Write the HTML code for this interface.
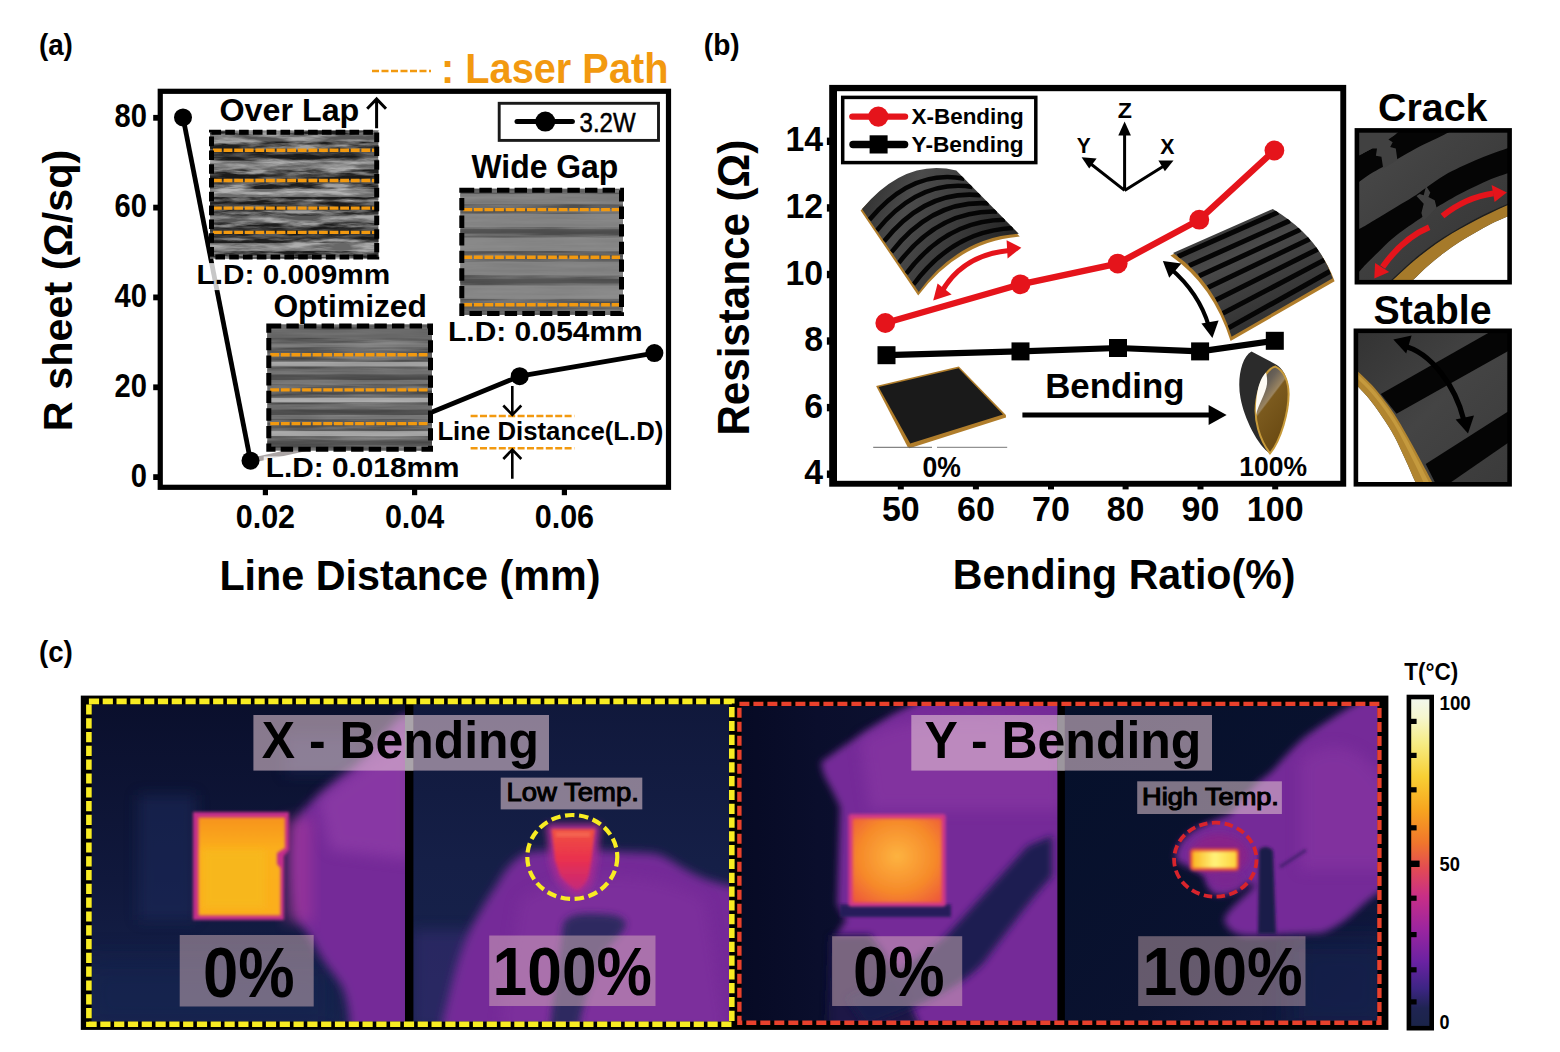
<!DOCTYPE html>
<html lang="en"><head><meta charset="utf-8"><title>Figure</title>
<style>
html,body{margin:0;padding:0;background:#fff;}
body{width:1560px;height:1052px;overflow:hidden;font-family:"Liberation Sans", Arial, sans-serif;}
svg{display:block;}
svg text{font-family:"Liberation Sans", Arial, sans-serif;}
</style></head><body>
<svg width="1560" height="1052" viewBox="0 0 1560 1052">
<defs>

<filter id="semA" x="0" y="0" width="100%" height="100%" color-interpolation-filters="sRGB">
  <feTurbulence type="fractalNoise" baseFrequency="0.028 0.2" numOctaves="4" seed="7"/>
  <feColorMatrix type="matrix" values="2.6 0 0 0 -0.88  2.6 0 0 0 -0.88  2.6 0 0 0 -0.88  0 0 0 0 1"/>
</filter>
<filter id="semB" x="0" y="0" width="100%" height="100%" color-interpolation-filters="sRGB">
  <feTurbulence type="fractalNoise" baseFrequency="0.012 0.22" numOctaves="3" seed="11"/>
  <feColorMatrix type="matrix" values="1.5 0 0 0 -0.32  1.5 0 0 0 -0.32  1.5 0 0 0 -0.32  0 0 0 0 1"/>
</filter>
<filter id="semC" x="0" y="0" width="100%" height="100%" color-interpolation-filters="sRGB">
  <feTurbulence type="fractalNoise" baseFrequency="0.01 0.2" numOctaves="3" seed="23"/>
  <feColorMatrix type="matrix" values="0.9 0 0 0 0.0  0.9 0 0 0 0.0  0.9 0 0 0 0.0  0 0 0 0 1"/>
</filter>


<linearGradient id="shX" x1="0" y1="0" x2="1" y2="0.35">
 <stop offset="0" stop-color="#2a2a2a"/><stop offset="0.35" stop-color="#4b4b4b"/><stop offset="0.7" stop-color="#3a3a3a"/><stop offset="1" stop-color="#262626"/>
</linearGradient>
<clipPath id="clipShX"><path d="M862 209 Q 905 158 956.3 170.5 L 1018.8 233.8 Q 958 238 918.7 292 Z"/></clipPath>


<linearGradient id="shY" x1="0" y1="0" x2="0.6" y2="1">
 <stop offset="0" stop-color="#2e2e2e"/><stop offset="0.45" stop-color="#4a4a4a"/><stop offset="1" stop-color="#2c2c2c"/>
</linearGradient>
<clipPath id="clipShY"><path d="M1173 253 L 1272.8 209 Q 1318 236 1332.7 278.2 L 1231.6 336.8 Q 1215 282 1173 253 Z"/></clipPath>


<linearGradient id="rollIn" x1="0" y1="0" x2="0.5" y2="1">
 <stop offset="0" stop-color="#45423f"/><stop offset="0.3" stop-color="#6a6258"/><stop offset="0.46" stop-color="#9a8460"/><stop offset="0.485" stop-color="#7b5a1e"/><stop offset="1" stop-color="#6a4a12"/>
</linearGradient>


<clipPath id="clipCrack"><rect x="1357" y="130.4" width="152.6" height="151.8"/></clipPath>
<linearGradient id="crG" x1="0" y1="0" x2="1" y2="1">
 <stop offset="0" stop-color="#4a4a4a"/><stop offset="0.5" stop-color="#3e3e3e"/><stop offset="1" stop-color="#333"/>
</linearGradient>


<clipPath id="clipStable"><rect x="1356" y="330.8" width="153.6" height="153.4"/></clipPath>
<linearGradient id="stG" x1="0" y1="0" x2="1" y2="1">
 <stop offset="0" stop-color="#333"/><stop offset="0.5" stop-color="#444"/><stop offset="1" stop-color="#3a3a3a"/>
</linearGradient>


<filter id="bl2" x="-20%" y="-20%" width="140%" height="140%"><feGaussianBlur stdDeviation="1.6"/></filter>
<filter id="bl4" x="-20%" y="-20%" width="140%" height="140%"><feGaussianBlur stdDeviation="3.5"/></filter>
<filter id="bl6" x="-30%" y="-30%" width="160%" height="160%"><feGaussianBlur stdDeviation="5"/></filter>
<filter id="bl8" x="-30%" y="-30%" width="160%" height="160%"><feGaussianBlur stdDeviation="7"/></filter>
<filter id="bl14" x="-40%" y="-40%" width="180%" height="180%"><feGaussianBlur stdDeviation="13"/></filter>
<linearGradient id="navy1" x1="0" y1="0" x2="0" y2="1">
 <stop offset="0" stop-color="#0a0f2c"/><stop offset="0.55" stop-color="#10183c"/><stop offset="1" stop-color="#16224c"/>
</linearGradient>
<linearGradient id="navy2" x1="0" y1="0" x2="0" y2="1">
 <stop offset="0" stop-color="#10183b"/><stop offset="0.5" stop-color="#151f47"/><stop offset="1" stop-color="#18234e"/>
</linearGradient>
<linearGradient id="navy3" x1="0" y1="0" x2="1" y2="0">
 <stop offset="0" stop-color="#060a24"/><stop offset="0.25" stop-color="#0a0e2c"/><stop offset="1" stop-color="#101536"/>
</linearGradient>
<linearGradient id="navy4" x1="0" y1="0" x2="1" y2="1">
 <stop offset="0" stop-color="#05102a"/><stop offset="0.6" stop-color="#0a1230"/><stop offset="1" stop-color="#141c46"/>
</linearGradient>
<linearGradient id="hotX" x1="0" y1="0" x2="0" y2="1">
 <stop offset="0" stop-color="#f7931e"/><stop offset="0.35" stop-color="#fbb01c"/><stop offset="1" stop-color="#fbae1a"/>
</linearGradient>
<radialGradient id="hotY" cx="0.5" cy="0.45" r="0.7">
 <stop offset="0" stop-color="#fdb340"/><stop offset="0.6" stop-color="#f68a2a"/><stop offset="1" stop-color="#ee5a3a"/>
</radialGradient>
<linearGradient id="coneG" x1="0" y1="0" x2="0" y2="1">
 <stop offset="0" stop-color="#f0523f"/><stop offset="0.5" stop-color="#e9304e"/><stop offset="1" stop-color="#c4287a"/>
</linearGradient>
<linearGradient id="barG" x1="0" y1="0" x2="1" y2="0">
 <stop offset="0" stop-color="#fbb520"/><stop offset="0.5" stop-color="#fff27a"/><stop offset="1" stop-color="#fdd23a"/>
</linearGradient>
<clipPath id="cX0"><rect x="91.6" y="704.2" width="314" height="317.3"/></clipPath>
<clipPath id="cX1"><rect x="413" y="704.2" width="316.2" height="317.3"/></clipPath>
<clipPath id="cY0"><rect x="741.4" y="706" width="316.6" height="314.8"/></clipPath>
<clipPath id="cY1"><rect x="1064.4" y="706" width="313" height="314.8"/></clipPath>


<linearGradient id="cbar" x1="0" y1="0" x2="0" y2="1">
 <stop offset="0" stop-color="#f2f8f0"/><stop offset="0.06" stop-color="#f5f6cf"/><stop offset="0.14" stop-color="#f6ec84"/>
 <stop offset="0.24" stop-color="#f8cf34"/><stop offset="0.34" stop-color="#f7a51f"/><stop offset="0.44" stop-color="#f0762c"/>
 <stop offset="0.52" stop-color="#e24a55"/><stop offset="0.60" stop-color="#c92f86"/><stop offset="0.70" stop-color="#9c259f"/>
 <stop offset="0.80" stop-color="#6a22a2"/><stop offset="0.88" stop-color="#3d2584"/><stop offset="0.94" stop-color="#1f2452"/><stop offset="1" stop-color="#1a2448"/>
</linearGradient>

</defs>
<rect width="1560" height="1052" fill="#fff"/>
<g id="panel-a">
<text x="38.9" y="54.5" font-size="29.9" font-weight="bold" fill="#000" text-anchor="start" textLength="34.0" lengthAdjust="spacingAndGlyphs" >(a)</text>
<line x1="372" y1="71" x2="431" y2="71" stroke="#F2990F" stroke-width="2.6" stroke-dasharray="7 2.5"/>
<text x="441.0" y="83.2" font-size="42.1" font-weight="bold" fill="#F2990F" text-anchor="start" textLength="227.5" lengthAdjust="spacingAndGlyphs" >: Laser Path</text>
<polyline points="250.5,460.7 385.7,431" fill="none" stroke="#aaa4a4" stroke-width="5"/>
<polyline points="183,117.4 250.5,460.7" fill="none" stroke="#000" stroke-width="4.8"/>
<polyline points="385.7,431 519.7,376.2 654.4,353.1" fill="none" stroke="#000" stroke-width="4.8" stroke-linejoin="round"/>
<circle cx="183" cy="117.4" r="9" fill="#000"/>
<circle cx="250.5" cy="460.7" r="9" fill="#000"/>
<circle cx="519.7" cy="376.2" r="9" fill="#000"/>
<circle cx="654.4" cy="353.1" r="9" fill="#000"/>
<rect x="160.25" y="91.3" width="508.25" height="396" fill="none" stroke="#000" stroke-width="5.2"/>
<rect x="153.2" y="114.9" width="5" height="5.8" fill="#000"/>
<text x="147.0" y="127.4" font-size="33.4" font-weight="bold" fill="#000" text-anchor="end" textLength="32.4" lengthAdjust="spacingAndGlyphs" >80</text>
<rect x="153.2" y="204.7" width="5" height="5.8" fill="#000"/>
<text x="147.0" y="217.2" font-size="33.4" font-weight="bold" fill="#000" text-anchor="end" textLength="32.4" lengthAdjust="spacingAndGlyphs" >60</text>
<rect x="153.2" y="294.5" width="5" height="5.8" fill="#000"/>
<text x="147.0" y="307.0" font-size="33.4" font-weight="bold" fill="#000" text-anchor="end" textLength="32.4" lengthAdjust="spacingAndGlyphs" >40</text>
<rect x="153.2" y="384.4" width="5" height="5.8" fill="#000"/>
<text x="147.0" y="396.9" font-size="33.4" font-weight="bold" fill="#000" text-anchor="end" textLength="32.4" lengthAdjust="spacingAndGlyphs" >20</text>
<rect x="153.2" y="474.2" width="5" height="5.8" fill="#000"/>
<text x="147.0" y="486.7" font-size="33.4" font-weight="bold" fill="#000" text-anchor="end" textLength="16.2" lengthAdjust="spacingAndGlyphs" >0</text>
<rect x="262.8" y="489" width="5.2" height="6.2" fill="#000"/>
<text x="265.4" y="527.8" font-size="33.5" font-weight="bold" fill="#000" text-anchor="middle" textLength="59.4" lengthAdjust="spacingAndGlyphs" >0.02</text>
<rect x="412.0" y="489" width="5.2" height="6.2" fill="#000"/>
<text x="414.6" y="527.8" font-size="33.5" font-weight="bold" fill="#000" text-anchor="middle" textLength="59.4" lengthAdjust="spacingAndGlyphs" >0.04</text>
<rect x="561.8" y="489" width="5.2" height="6.2" fill="#000"/>
<text x="564.4" y="527.8" font-size="33.5" font-weight="bold" fill="#000" text-anchor="middle" textLength="59.4" lengthAdjust="spacingAndGlyphs" >0.06</text>
<text x="72.0" y="431.2" font-size="40.4" font-weight="bold" fill="#000" text-anchor="start" textLength="281.5" lengthAdjust="spacingAndGlyphs" transform="rotate(-90 72.0 431.2)" >R sheet (Ω/sq)</text>
<text x="219.4" y="590.2" font-size="41.7" font-weight="bold" fill="#000" text-anchor="start" textLength="381.0" lengthAdjust="spacingAndGlyphs" >Line Distance (mm)</text>
<rect x="499.2" y="103.3" width="159.3" height="37.1" fill="#fff" stroke="#1a1a1a" stroke-width="2.9"/>
<line x1="517" y1="121.6" x2="572.4" y2="121.6" stroke="#000" stroke-width="5" stroke-linecap="round"/>
<circle cx="545.3" cy="121.6" r="10" fill="#000"/>
<text x="579.6" y="131.6" font-size="28" font-weight="normal" fill="#000" text-anchor="start" textLength="56.0" lengthAdjust="spacingAndGlyphs" stroke="#000" stroke-width="0.55">3.2W</text>
<g>
<rect x="210" y="130.7" width="168.2" height="127.69999999999999" fill="#3e3e3e"/>
<rect x="210" y="130.7" width="168.2" height="127.69999999999999" filter="url(#semA)" opacity="0.5"/>
<rect x="210" y="134.5" width="168.2" height="7" fill="#b0b0b0" opacity="0.4"/>
<rect x="210" y="160.5" width="168.2" height="9" fill="#c4c4c4" opacity="0.42"/>
<rect x="210" y="189.0" width="168.2" height="8" fill="#cccccc" opacity="0.45"/>
<rect x="210" y="215.5" width="168.2" height="7" fill="#b8b8b8" opacity="0.38"/>
<rect x="210" y="243.0" width="168.2" height="8" fill="#c0c0c0" opacity="0.45"/>
<rect x="210" y="149.5" width="168.2" height="9" fill="#161616" opacity="0.45"/>
<rect x="210" y="174.5" width="168.2" height="9" fill="#161616" opacity="0.4"/>
<rect x="210" y="201.5" width="168.2" height="9" fill="#161616" opacity="0.4"/>
<rect x="210" y="227.5" width="168.2" height="11" fill="#121212" opacity="0.5"/>
<line x1="213" y1="150.2" x2="375.2" y2="150.2" stroke="#F2990F" stroke-width="3.4" stroke-dasharray="8.8 1.8"/>
<line x1="213" y1="180.5" x2="375.2" y2="180.5" stroke="#F2990F" stroke-width="3.4" stroke-dasharray="8.8 1.8"/>
<line x1="213" y1="208.1" x2="375.2" y2="208.1" stroke="#F2990F" stroke-width="3.4" stroke-dasharray="8.8 1.8"/>
<line x1="213" y1="232.4" x2="375.2" y2="232.4" stroke="#F2990F" stroke-width="3.4" stroke-dasharray="8.8 1.8"/>
<rect x="211.5" y="132.2" width="165.2" height="124.69999999999999" fill="none" stroke="#000" stroke-width="5" stroke-dasharray="9.6 4.2"/>
</g>
<g>
<rect x="460.3" y="188.8" width="162.7" height="126.09999999999997" fill="#646464"/>
<rect x="460.3" y="188.8" width="162.7" height="126.09999999999997" filter="url(#semB)" opacity="0.22"/>
<rect x="460.3" y="194.0" width="162.7" height="10" fill="#8a8a8a" opacity="0.7"/>
<rect x="460.3" y="213.8" width="162.7" height="13.5" fill="#8c8c8c" opacity="0.8"/>
<rect x="460.3" y="229.2" width="162.7" height="4.4" fill="#4a4a4a" opacity="0.8"/>
<rect x="460.3" y="237.6" width="162.7" height="13.5" fill="#8e8e8e" opacity="0.8"/>
<rect x="460.3" y="261.6" width="162.7" height="13.5" fill="#8a8a8a" opacity="0.8"/>
<rect x="460.3" y="279.1" width="162.7" height="4.4" fill="#4c4c4c" opacity="0.8"/>
<rect x="460.3" y="285.4" width="162.7" height="13.5" fill="#909090" opacity="0.8"/>
<line x1="463.3" y1="209.6" x2="620" y2="209.6" stroke="#F2990F" stroke-width="3.4" stroke-dasharray="8.8 1.8"/>
<line x1="463.3" y1="257.2" x2="620" y2="257.2" stroke="#F2990F" stroke-width="3.4" stroke-dasharray="8.8 1.8"/>
<line x1="463.3" y1="304.8" x2="620" y2="304.8" stroke="#F2990F" stroke-width="3.4" stroke-dasharray="8.8 1.8"/>
<rect x="461.8" y="190.3" width="159.7" height="123.09999999999997" fill="none" stroke="#000" stroke-width="5" stroke-dasharray="12.4 5.2"/>
</g>
<g>
<rect x="267.3" y="324.4" width="164.7" height="126.30000000000001" fill="#5e5e5e"/>
<rect x="267.3" y="324.4" width="164.7" height="126.30000000000001" filter="url(#semB)" opacity="0.25"/>
<rect x="267.3" y="330.0" width="164.7" height="8" fill="#6c6c6c" opacity="0.7"/>
<rect x="267.3" y="343.3" width="164.7" height="4" fill="#8a8a8a" opacity="0.6"/>
<rect x="267.3" y="361.9" width="164.7" height="4.6" fill="#bcbcbc" opacity="0.7"/>
<rect x="267.3" y="369.5" width="164.7" height="5" fill="#777" opacity="0.6"/>
<rect x="267.3" y="374.5" width="164.7" height="5" fill="#484848" opacity="0.7"/>
<rect x="267.3" y="380.0" width="164.7" height="4" fill="#808080" opacity="0.6"/>
<rect x="267.3" y="397.7" width="164.7" height="4.6" fill="#c6c6c6" opacity="0.7"/>
<rect x="267.3" y="404.5" width="164.7" height="5" fill="#777" opacity="0.5"/>
<rect x="267.3" y="409.9" width="164.7" height="5" fill="#484848" opacity="0.7"/>
<rect x="267.3" y="415.0" width="164.7" height="4" fill="#858585" opacity="0.6"/>
<rect x="267.3" y="431.1" width="164.7" height="5" fill="#c0c0c0" opacity="0.7"/>
<rect x="267.3" y="440.5" width="164.7" height="5" fill="#4a4a4a" opacity="0.6"/>
<line x1="270.3" y1="354.8" x2="429" y2="354.8" stroke="#F2990F" stroke-width="3.4" stroke-dasharray="8.8 1.8"/>
<line x1="270.3" y1="389.9" x2="429" y2="389.9" stroke="#F2990F" stroke-width="3.4" stroke-dasharray="8.8 1.8"/>
<line x1="270.3" y1="423.6" x2="429" y2="423.6" stroke="#F2990F" stroke-width="3.4" stroke-dasharray="8.8 1.8"/>
<rect x="268.8" y="325.9" width="161.7" height="123.30000000000001" fill="none" stroke="#000" stroke-width="5" stroke-dasharray="12.4 5.2"/>
</g>
<text x="219.5" y="121.2" font-size="31" font-weight="bold" fill="#000" text-anchor="start" textLength="139.8" lengthAdjust="spacingAndGlyphs" >Over Lap</text>
<path d="M376.6 128.3V99.6M367.2 108.8L376.6 99L386 108.8" fill="none" stroke="#000" stroke-width="3"/>
<rect x="194.5" y="263.1" width="197.7" height="27.0" fill="#fff" opacity="0.78"/>
<text x="196.5" y="284.1" font-size="27.6" font-weight="bold" fill="#000" text-anchor="start" textLength="193.7" lengthAdjust="spacingAndGlyphs" >L.D: 0.009mm</text>
<text x="273.4" y="316.5" font-size="32" font-weight="bold" fill="#000" text-anchor="start" textLength="153.5" lengthAdjust="spacingAndGlyphs" >Optimized</text>
<rect x="263.7" y="456.4" width="197.8" height="27.0" fill="#fff" opacity="0.78"/>
<text x="265.7" y="477.4" font-size="27.6" font-weight="bold" fill="#000" text-anchor="start" textLength="193.8" lengthAdjust="spacingAndGlyphs" >L.D: 0.018mm</text>
<text x="471.4" y="177.5" font-size="32.7" font-weight="bold" fill="#000" text-anchor="start" textLength="147.0" lengthAdjust="spacingAndGlyphs" >Wide Gap</text>
<text x="448.1" y="341.4" font-size="27.6" font-weight="bold" fill="#000" text-anchor="start" textLength="194.6" lengthAdjust="spacingAndGlyphs" >L.D: 0.054mm</text>
<line x1="470.6" y1="416" x2="574.3" y2="416" stroke="#F2990F" stroke-width="2.6" stroke-dasharray="7 2.4"/>
<line x1="470.6" y1="448.3" x2="574.3" y2="448.3" stroke="#F2990F" stroke-width="2.6" stroke-dasharray="7 2.4"/>
<path d="M512.3 386V414.5M503.3 405.5L512.3 414.8L521.3 405.5" fill="none" stroke="#000" stroke-width="2.6"/>
<path d="M512.3 478.8V450M503.3 459L512.3 449.6L521.3 459" fill="none" stroke="#000" stroke-width="2.6"/>
<rect x="436.4" y="420.3" width="228" height="25.4" fill="#fff" opacity="0.78"/>
<text x="437.4" y="440.0" font-size="25.9" font-weight="bold" fill="#000" text-anchor="start" textLength="226.0" lengthAdjust="spacingAndGlyphs" >Line Distance(L.D)</text>
</g>
<g id="panel-b">
<text x="703.8" y="54.5" font-size="29.9" font-weight="bold" fill="#000" text-anchor="start" textLength="35.9" lengthAdjust="spacingAndGlyphs" >(b)</text>
<rect x="829.2" y="84.9" width="517" height="401.8" fill="#000"/>
<rect x="837" y="91.2" width="503.3" height="389.6" fill="#fff"/>
<rect x="826.9" y="137.6" width="4" height="7.4" fill="#000"/>
<text x="823.0" y="151.3" font-size="35" font-weight="bold" fill="#000" text-anchor="end" textLength="37.6" lengthAdjust="spacingAndGlyphs" >14</text>
<rect x="826.9" y="204.2" width="4" height="7.4" fill="#000"/>
<text x="823.0" y="217.9" font-size="35" font-weight="bold" fill="#000" text-anchor="end" textLength="37.6" lengthAdjust="spacingAndGlyphs" >12</text>
<rect x="826.9" y="270.8" width="4" height="7.4" fill="#000"/>
<text x="823.0" y="284.5" font-size="35" font-weight="bold" fill="#000" text-anchor="end" textLength="37.6" lengthAdjust="spacingAndGlyphs" >10</text>
<rect x="826.9" y="337.3" width="4" height="7.4" fill="#000"/>
<text x="823.0" y="351.0" font-size="35" font-weight="bold" fill="#000" text-anchor="end" textLength="18.8" lengthAdjust="spacingAndGlyphs" >8</text>
<rect x="826.9" y="403.9" width="4" height="7.4" fill="#000"/>
<text x="823.0" y="417.6" font-size="35" font-weight="bold" fill="#000" text-anchor="end" textLength="18.8" lengthAdjust="spacingAndGlyphs" >6</text>
<rect x="826.9" y="470.5" width="4" height="7.4" fill="#000"/>
<text x="823.0" y="484.2" font-size="35" font-weight="bold" fill="#000" text-anchor="end" textLength="18.8" lengthAdjust="spacingAndGlyphs" >4</text>
<rect x="897.8" y="485" width="6" height="4.4" fill="#000"/>
<text x="900.8" y="521.3" font-size="35" font-weight="bold" fill="#000" text-anchor="middle" textLength="37.8" lengthAdjust="spacingAndGlyphs" >50</text>
<rect x="972.9" y="485" width="6" height="4.4" fill="#000"/>
<text x="975.9" y="521.3" font-size="35" font-weight="bold" fill="#000" text-anchor="middle" textLength="37.8" lengthAdjust="spacingAndGlyphs" >60</text>
<rect x="1048.0" y="485" width="6" height="4.4" fill="#000"/>
<text x="1051.0" y="521.3" font-size="35" font-weight="bold" fill="#000" text-anchor="middle" textLength="37.8" lengthAdjust="spacingAndGlyphs" >70</text>
<rect x="1122.6" y="485" width="6" height="4.4" fill="#000"/>
<text x="1125.6" y="521.3" font-size="35" font-weight="bold" fill="#000" text-anchor="middle" textLength="37.8" lengthAdjust="spacingAndGlyphs" >80</text>
<rect x="1197.5" y="485" width="6" height="4.4" fill="#000"/>
<text x="1200.5" y="521.3" font-size="35" font-weight="bold" fill="#000" text-anchor="middle" textLength="37.8" lengthAdjust="spacingAndGlyphs" >90</text>
<rect x="1272.2" y="485" width="6" height="4.4" fill="#000"/>
<text x="1275.2" y="521.3" font-size="35" font-weight="bold" fill="#000" text-anchor="middle" textLength="56.7" lengthAdjust="spacingAndGlyphs" >100</text>
<text x="748.7" y="435.6" font-size="43.5" font-weight="bold" fill="#000" text-anchor="start" textLength="296.0" lengthAdjust="spacingAndGlyphs" transform="rotate(-90 748.7 435.6)" >Resistance (Ω)</text>
<text x="952.8" y="589.4" font-size="42.5" font-weight="bold" fill="#000" text-anchor="start" textLength="342.6" lengthAdjust="spacingAndGlyphs" >Bending Ratio(%)</text>
<rect x="842.7" y="97.4" width="193.1" height="65.2" fill="#fff" stroke="#000" stroke-width="3.5"/>
<line x1="852.4" y1="116.6" x2="905" y2="116.6" stroke="#E5141B" stroke-width="6.4" stroke-linecap="round"/>
<circle cx="878.3" cy="116.6" r="10.1" fill="#E5141B"/>
<line x1="853" y1="144.5" x2="904.6" y2="144.5" stroke="#000" stroke-width="7.4" stroke-linecap="round"/>
<rect x="869.6" y="135.3" width="18" height="18.2" fill="#000"/>
<text x="911.5" y="123.6" font-size="21.6" font-weight="bold" fill="#000" text-anchor="start" textLength="112.2" lengthAdjust="spacingAndGlyphs" >X-Bending</text>
<text x="911.5" y="151.9" font-size="21.6" font-weight="bold" fill="#000" text-anchor="start" textLength="112.2" lengthAdjust="spacingAndGlyphs" >Y-Bending</text>
<g stroke="#000" stroke-width="3" fill="none"><path d="M1124.6 190.4V130M1124.6 190.4L1090 163.2M1124.6 190.4L1165 165.3"/></g>
<path d="M1124.6 121.5L1118.3 135.5H1130.9Z" fill="#000"/>
<path d="M1081.6 157.2L1096.6 158.4L1089.2 168.4Z" fill="#000"/>
<path d="M1173.5 160.6L1158.4 160.6L1164.9 171.2Z" fill="#000"/>
<text x="1117.7" y="117.8" font-size="21.8" font-weight="bold" fill="#000" text-anchor="start" textLength="14.2" lengthAdjust="spacingAndGlyphs" >Z</text>
<text x="1076.7" y="153.2" font-size="21.8" font-weight="bold" fill="#000" text-anchor="start" textLength="14.0" lengthAdjust="spacingAndGlyphs" >Y</text>
<text x="1160.3" y="154.4" font-size="21.8" font-weight="bold" fill="#000" text-anchor="start" textLength="14.2" lengthAdjust="spacingAndGlyphs" >X</text>
<path d="M860.6 210.5 Q 905 160 956.3 172 L 1019.8 236.6 Q 960 241 918.2 295.4 Z" fill="#B07D2B"/>
<path d="M862 209 Q 905 158 956.3 170.5 L 1018.8 233.8 Q 958 238 918.7 292 Z" fill="url(#shX)"/>
<g clip-path="url(#clipShX)" stroke="#050505" stroke-width="4.6" fill="none">
<path d="M869.4 219.8 Q 911.9 168.4 964.4 178.7"/>
<path d="M876.7 230.6 Q 918.8 178.8 972.5 186.9"/>
<path d="M884.1 241.3 Q 925.6 189.2 980.7 195.2"/>
<path d="M891.5 252.1 Q 932.5 199.6 988.8 203.4"/>
<path d="M898.8 262.9 Q 939.4 209.9 996.9 211.6"/>
<path d="M906.2 273.7 Q 946.3 220.3 1005.0 219.8"/>
<path d="M913.5 284.5 Q 953.2 230.7 1013.1 228.0"/>
</g>
<path d="M941 293 Q 962 255 1009 250.5" fill="none" stroke="#E5141B" stroke-width="5"/>
<path d="M933.2 300.5L937.6 283.6L951.6 294.6Z" fill="#E5141B"/>
<path d="M1021.3 247.8L1006.6 240.2L1007.6 258.4Z" fill="#E5141B"/>
<path d="M1170.4 255.4 L 1272.8 210.5 Q 1319 238 1334.6 281.2 L 1230.6 341 Q 1213 285 1170.4 255.4 Z" fill="#B07D2B"/>
<path d="M1173 253 L 1272.8 209 Q 1318 236 1332.7 278.2 L 1231.6 336.8 Q 1215 282 1173 253 Z" fill="url(#shY)"/>
<g clip-path="url(#clipShY)" stroke="#050505" stroke-width="5" fill="none">
<path d="M1177.9 256.6 L 1278.1 212.3"/>
<path d="M1189.0 265.8 L 1289.9 220.6"/>
<path d="M1199.0 276.1 L 1300.4 229.5"/>
<path d="M1208.0 287.5 L 1309.7 239.0"/>
<path d="M1215.9 299.9 L 1317.7 249.2"/>
<path d="M1222.8 313.4 L 1324.5 259.9"/>
<path d="M1228.7 327.9 L 1330.1 271.3"/>
</g>
<path d="M1170.5 268.5 Q 1199 293 1208.8 326" fill="none" stroke="#000" stroke-width="4.2"/>
<path d="M1162.9 261L1181.4 263.6L1169.2 277.8Z" fill="#000"/>
<path d="M1212.4 338L1201.4 323.6L1218.6 320.6Z" fill="#000"/>
<path d="M876.1 386.1 L 958.8 366.6 L 1005.9 415 L 1006 417.6 L 909.6 448.2 L 907.4 446.6 Z" fill="#B07D2B"/>
<path d="M878.6 387 L 958.6 368.2 L 1003 414.6 L 910.2 443.6 Z" fill="#1a1a1a"/>
<line x1="873.2" y1="447.3" x2="932" y2="447.3" stroke="#666" stroke-width="1"/>
<line x1="937" y1="447.3" x2="1007.2" y2="447.3" stroke="#777" stroke-width="1"/>
<text x="922.6" y="476.6" font-size="28.6" font-weight="bold" fill="#000" text-anchor="start" textLength="38.4" lengthAdjust="spacingAndGlyphs" >0%</text>
<text x="1045.2" y="398.0" font-size="34.6" font-weight="bold" fill="#000" text-anchor="start" textLength="139.3" lengthAdjust="spacingAndGlyphs" >Bending</text>
<line x1="1022.4" y1="415" x2="1211" y2="415" stroke="#000" stroke-width="5.2"/>
<path d="M1226.6 415L1208.6 405V425Z" fill="#000"/>
<path d="M1251.5 351.4 C 1241 357 1237 380 1240.5 398 C 1244 418 1258 446 1270 453.4 C 1281 440 1290 410 1289 392 C 1288 376 1282 368 1276 364.5 Z" fill="#2b2b2b"/>
<path d="M1270 453.4 C 1260 440 1253 420 1256.5 400 C 1260 380 1268 368 1275.5 366.6 C 1283 370 1288.6 380 1288.6 394 C 1288.6 412 1281 440 1270 453.4 Z" fill="url(#rollIn)" stroke="#C79A3A" stroke-width="2"/>
<path d="M1266 372.6 C 1259.6 379 1255.4 392 1256 415 C 1258 405 1266 393 1267 384 C 1267.4 380 1267 376 1266 372.6 Z" fill="#fdfaf3"/>
<text x="1239.3" y="476.2" font-size="27.8" font-weight="bold" fill="#000" text-anchor="start" textLength="67.8" lengthAdjust="spacingAndGlyphs" >100%</text>
<polyline points="885.3,323 1020.5,284.3 1117.7,263.6 1199.3,219.7 1274.4,150.5" fill="none" stroke="#E5141B" stroke-width="6.4" stroke-linejoin="round"/>
<circle cx="885.3" cy="323" r="9.9" fill="#E5141B"/>
<circle cx="1020.5" cy="284.3" r="9.9" fill="#E5141B"/>
<circle cx="1117.7" cy="263.6" r="9.9" fill="#E5141B"/>
<circle cx="1199.3" cy="219.7" r="9.9" fill="#E5141B"/>
<circle cx="1274.4" cy="150.5" r="9.9" fill="#E5141B"/>
<polyline points="886.5,355.2 1020.5,351.4 1118,348 1200.1,351.4 1274.8,340.8" fill="none" stroke="#000" stroke-width="6.2" stroke-linejoin="round"/>
<rect x="877.5" y="346.2" width="18" height="18" fill="#000"/>
<rect x="1011.5" y="342.4" width="18" height="18" fill="#000"/>
<rect x="1109.0" y="339.0" width="18" height="18" fill="#000"/>
<rect x="1191.1" y="342.4" width="18" height="18" fill="#000"/>
<rect x="1265.8" y="331.8" width="18" height="18" fill="#000"/>
<text x="1378.1" y="120.8" font-size="39.3" font-weight="bold" fill="#000" text-anchor="start" textLength="109.4" lengthAdjust="spacingAndGlyphs" >Crack</text>
<g clip-path="url(#clipCrack)">
<rect x="1357" y="130.4" width="152.6" height="151.8" fill="url(#crG)"/>
<path d="M1350.0 160.3 C1351.4 159.5 1355.0 157.5 1358.6 155.6 C1362.3 153.6 1365.9 152.0 1372.0 148.5 C1378.0 145.0 1389.5 138.1 1394.7 134.7 C1399.9 131.3 1400.3 130.0 1403.3 128.1 C1406.3 126.3 1411.2 124.2 1412.7 123.4 L1456.6 128.1 C1454.6 129.2 1448.3 132.6 1444.1 134.7 C1439.9 136.8 1436.3 138.4 1431.6 140.7 C1426.9 143.0 1421.6 145.4 1415.9 148.5 C1410.1 151.6 1404.1 155.3 1397.1 159.2 C1390.0 163.1 1379.9 168.2 1373.5 172.1 C1367.1 175.9 1362.5 179.6 1358.6 182.2 C1354.7 184.9 1351.4 186.8 1350.0 187.7 Z" fill="#050505"/>
<path d="M1350.0 234.8 C1351.4 233.9 1356.0 230.9 1358.6 229.3 C1361.2 227.7 1361.9 227.6 1365.7 225.4 C1369.5 223.2 1376.1 219.1 1381.4 216.0 C1386.6 212.8 1391.8 209.7 1397.1 206.6 C1402.3 203.4 1407.9 200.3 1412.7 197.1 C1417.6 194.0 1420.8 191.3 1426.1 187.7 C1431.3 184.1 1438.5 178.9 1444.1 175.5 C1449.7 172.1 1454.6 169.9 1459.8 167.3 C1465.0 164.8 1470.2 162.5 1475.5 160.3 C1480.7 158.1 1485.9 156.0 1491.2 154.0 C1496.4 152.1 1502.7 150.0 1506.8 148.5 C1511.0 147.0 1514.7 145.7 1516.2 145.1 L1516.2 170.5 C1514.7 171.0 1511.0 172.2 1506.8 173.6 C1502.7 175.1 1496.4 177.0 1491.2 179.1 C1485.9 181.2 1480.7 183.7 1475.5 186.2 C1470.2 188.7 1466.1 190.6 1459.8 194.0 C1453.5 197.4 1444.4 202.5 1437.8 206.6 C1431.3 210.6 1427.4 213.6 1420.6 218.3 C1413.8 223.0 1403.6 229.7 1397.1 234.8 C1390.5 239.9 1386.6 243.9 1381.4 248.9 C1376.1 253.9 1369.5 260.7 1365.7 264.6 C1361.9 268.5 1361.2 269.6 1358.6 272.4 C1356.0 275.3 1351.4 280.3 1350.0 281.8 Z" fill="#050505"/>
<path d="M1401.8 291.2 C1403.6 289.4 1408.3 284.6 1412.7 280.3 C1417.2 276.0 1423.2 269.9 1428.4 265.4 C1433.6 260.8 1438.9 256.7 1444.1 252.8 C1449.3 248.9 1454.6 245.2 1459.8 241.8 C1465.0 238.4 1470.2 235.4 1475.5 232.4 C1480.7 229.4 1485.9 226.4 1491.2 223.8 C1496.4 221.2 1502.7 218.6 1506.8 216.8 C1511.0 214.9 1514.7 213.5 1516.2 212.8 L1516.2 297.5 C1497.2 297.5 1420.8 297.5 1401.8 297.5 Z" fill="#fff"/>
<path d="M1379.8 292.8 C1381.9 290.7 1386.9 285.5 1392.3 280.3 C1397.8 275.0 1406.7 266.7 1412.7 261.4 C1418.7 256.2 1423.2 252.8 1428.4 248.9 C1433.6 245.0 1438.9 241.3 1444.1 237.9 C1449.3 234.5 1454.6 231.5 1459.8 228.5 C1465.0 225.5 1470.2 222.6 1475.5 219.9 C1480.7 217.1 1485.9 214.5 1491.2 212.0 C1496.4 209.6 1502.7 206.8 1506.8 205.0 C1511.0 203.2 1514.7 201.7 1516.2 201.1 L1516.2 212.8 C1514.7 213.5 1511.0 214.9 1506.8 216.8 C1502.7 218.6 1496.4 221.2 1491.2 223.8 C1485.9 226.4 1480.7 229.4 1475.5 232.4 C1470.2 235.4 1465.0 238.4 1459.8 241.8 C1454.6 245.2 1449.3 248.9 1444.1 252.8 C1438.9 256.7 1433.6 260.8 1428.4 265.4 C1423.2 269.9 1417.4 275.7 1412.7 280.3 C1408.0 284.8 1402.3 290.7 1400.2 292.8 Z" fill="#A67A2A"/>
<path d="M1378.2 292.8 C1380.4 290.7 1385.5 285.5 1391.1 280.3 C1396.7 275.0 1405.7 266.5 1411.8 261.1 C1417.9 255.8 1422.5 252.2 1427.8 248.3 C1433.1 244.3 1438.2 240.7 1443.5 237.3 C1448.8 233.9 1454.2 230.8 1459.5 227.7 C1464.8 224.7 1469.9 221.8 1475.2 219.1 C1480.4 216.4 1485.6 213.7 1490.8 211.3 C1496.1 208.8 1502.6 206.0 1506.8 204.2 C1511.1 202.4 1514.7 200.9 1516.2 200.3 L1516.2 201.7 C1514.7 202.3 1511.0 203.8 1506.8 205.6 C1502.7 207.4 1496.4 210.2 1491.2 212.7 C1485.9 215.2 1480.7 217.8 1475.5 220.5 C1470.2 223.3 1465.0 226.1 1459.8 229.1 C1454.6 232.1 1449.3 235.2 1444.1 238.6 C1438.9 241.9 1433.6 245.6 1428.4 249.5 C1423.2 253.5 1418.7 256.9 1412.7 262.1 C1406.7 267.3 1397.8 275.5 1392.3 280.6 C1386.9 285.7 1381.9 290.8 1379.8 292.8 Z" fill="#1e1e1e"/>
<path d="M1356.3 131.3 L1397.1 131.3 L1395.2 134.7 L1388.4 139.4 L1392.7 142.3 L1390.2 147.0 L1395.8 148.5 L1397.4 160.1 L1383.2 168.6 L1381.4 156.7 L1375.9 155.7 L1377.0 148.5 L1372.0 148.5 L1358.6 155.7 L1356.3 156.4Z" fill="#414141"/>
<path d="M1416.5 195.9 L1419.6 194.0 L1423.7 195.3 L1426.1 185.9 L1430.3 192.4 L1428.4 197.1 L1434.7 200.3 L1436.6 207.8 L1423.7 221.0 L1421.4 213.1 L1423.7 203.7Z" fill="#414141"/>
<path d="M1442.5 216.0 C1458.2 203.4 1475.5 195.9 1493.5 193.4" fill="none" stroke="#E5141B" stroke-width="6"/>
<path d="M1506.8 192.4 L1491.6 184.9 L1494.6 201.9Z" fill="#E5141B"/>
<path d="M1429.2 227.3 C1411.2 234.8 1397.1 246.5 1382.6 266.9" fill="none" stroke="#E5141B" stroke-width="6"/>
<path d="M1374.3 278.4 L1375.1 263.0 L1389.2 272.1Z" fill="#E5141B"/>
</g>
<rect x="1356.9" y="130.4" width="152.7" height="151.8" fill="none" stroke="#000" stroke-width="4.6"/>
<text x="1373.5" y="323.9" font-size="40.3" font-weight="bold" fill="#000" text-anchor="start" textLength="118.0" lengthAdjust="spacingAndGlyphs" >Stable</text>
<g clip-path="url(#clipStable)">
<rect x="1356" y="330.8" width="153.6" height="153.4" fill="url(#stG)"/>
<path d="M1380.8 394 L1489.5 332.3 L1512 330 L1512 349 L1396.5 413.8 Z" fill="#050505"/>
<path d="M1425.7 464 L1512 409 L1512 440 L1447.7 484.5 L1436 484.5 Z" fill="#050505"/>
<path d="M1346.3 375.1 C1348.3 377.1 1354.2 382.6 1358.4 387.1 C1362.6 391.5 1367.5 396.8 1371.4 401.7 C1375.3 406.6 1378.0 410.6 1381.8 416.3 C1385.7 422.1 1390.5 429.4 1394.4 436.4 C1398.2 443.4 1401.3 450.6 1404.8 458.2 C1408.3 465.7 1412.8 476.3 1415.3 481.8 C1417.7 487.3 1418.8 489.6 1419.5 491.2 L1346.3 491.2  Z" fill="#fff"/>
<path d="M1346.3 360.5 C1348.3 362.4 1354.2 368.0 1358.4 372.0 C1362.6 376.0 1367.5 380.4 1371.4 384.6 C1375.3 388.7 1378.0 392.2 1381.8 397.1 C1385.7 402.1 1390.2 407.9 1394.4 414.3 C1398.6 420.6 1402.7 427.8 1406.9 435.2 C1411.1 442.5 1415.3 450.4 1419.5 458.2 C1423.6 465.9 1429.2 476.3 1432.0 481.8 C1434.9 487.3 1435.8 489.6 1436.6 491.2 L1419.5 491.2 C1418.8 489.6 1417.7 487.3 1415.3 481.8 C1412.8 476.3 1408.3 465.7 1404.8 458.2 C1401.3 450.6 1398.2 443.4 1394.4 436.4 C1390.5 429.4 1385.7 422.1 1381.8 416.3 C1378.0 410.6 1375.3 406.6 1371.4 401.7 C1367.5 396.8 1362.6 391.5 1358.4 387.1 C1354.2 382.6 1348.3 377.1 1346.3 375.1 Z" fill="#B18530"/>
<path d="M1346.3 363.2 C1348.3 365.1 1354.2 370.7 1358.4 374.7 C1362.6 378.8 1367.5 383.2 1371.4 387.5 C1375.3 391.7 1378.1 395.3 1381.8 400.2 C1385.6 405.2 1389.9 411.0 1394.0 417.4 C1398.0 423.7 1402.2 431.0 1406.3 438.3 C1410.3 445.6 1414.3 453.5 1418.2 461.1 C1422.1 468.7 1427.3 478.9 1429.9 483.9 C1432.6 488.9 1433.4 490.0 1434.1 491.2 L1427.8 491.2 C1427.5 490.5 1427.6 490.9 1425.7 487.0 C1423.9 483.2 1420.3 475.2 1417.0 468.2 C1413.6 461.2 1409.3 452.6 1405.5 445.2 C1401.6 437.8 1397.9 430.4 1394.0 423.9 C1390.0 417.4 1385.6 411.3 1381.8 406.1 C1378.1 400.9 1375.3 397.3 1371.4 392.9 C1367.5 388.5 1362.6 383.7 1358.4 379.5 C1354.2 375.4 1348.3 369.8 1346.3 367.8 Z" fill="#C59A3E"/>
<path d="M1402 345.5 C 1432 352 1456 388 1463.8 420" fill="none" stroke="#000" stroke-width="5.2"/>
<path d="M1393.3 339.6L1411.6 335.4L1406.2 353.6Z" fill="#000"/>
<path d="M1468 433.4L1455.6 419.6L1474 415.4Z" fill="#000"/>
</g>
<rect x="1355.9" y="330.8" width="153.7" height="153.5" fill="none" stroke="#000" stroke-width="4.6"/>
</g>
<g id="panel-c">
<text x="38.9" y="661.6" font-size="29.9" font-weight="bold" fill="#000" text-anchor="start" textLength="34.0" lengthAdjust="spacingAndGlyphs" >(c)</text>
<rect x="80.8" y="695.6" width="1307.6" height="334.3" fill="#000"/>
<g clip-path="url(#cX0)">
<rect x="84" y="699" width="322" height="327" fill="url(#navy1)"/>
<rect x="138" y="795" width="58" height="125" fill="#1d2b5c" opacity="0.55" filter="url(#bl8)"/>
<rect x="285" y="735" width="70" height="40" fill="#1a2654" opacity="0.5" filter="url(#bl8)"/>
<rect x="84" y="960" width="250" height="70" fill="#172552" opacity="0.5" filter="url(#bl14)"/>
<path d="M293 826 C 300 812 306 806 312 801 C 324 790 336 780 352 769 C 366 756 384 733 400 717 L 412 713 L 412 1032 L 350 1032 C 349 1010 346 995 341 985 C 333 972 322 962 313 942 C 307 932 302 926 296 920 C 290 890 290 850 293 826 Z" fill="#752a98" filter="url(#bl6)"/>
<path d="M318 800 C 340 780 372 760 412 736 L 412 860 L 330 850 Z" fill="#9542ac" opacity="0.6" filter="url(#bl8)"/>
<path d="M284 818 H 312 V 922 H 284 Z" fill="#b03a9c" opacity="0.5" filter="url(#bl8)"/>
<path d="M193 812 H289 V850 L284 856 V920 H193 Z" fill="#c42f8c" filter="url(#bl2)"/>
<path d="M198.5 817.5 H285 V848 L277 853 V864 L280.5 868 V915.5 H198.5 Z" fill="url(#hotX)" filter="url(#bl2)"/>
<rect x="203" y="850" width="62" height="58" fill="#f6bb1e" opacity="0.7" filter="url(#bl4)"/>
</g>
<g clip-path="url(#cX1)">
<rect x="412" y="699" width="324" height="327" fill="url(#navy2)"/>
<rect x="412" y="930" width="60" height="100" fill="#3a2f78" opacity="0.5" filter="url(#bl8)"/>
<path d="M440 1032 C 448 1000 455 968 462 949 C 468 932 474 921 478 915 C 486 901 492 891 496 886 C 502 875 506 869 511 864 C 518 857 524 853 530 852 C 560 849 600 849 622 852 C 636 852.5 648 852.5 657 854 C 666 857 672 861 678 865 C 688 871 696 875 703 878 C 714 882 722 884 740 888 L 740 1032 Z" fill="#752a98" filter="url(#bl6)"/>
<path d="M520 900 C 560 872 650 868 705 900 L 725 1032 L 500 1032 Z" fill="#8434a0" opacity="0.5" filter="url(#bl8)"/>
<path d="M563 925 C 566 915 580 913 596 914 C 612 914 624 916 626 924 C 620 940 606 944 600 960 C 590 985 582 1005 578 1032 L 550 1032 C 552 1000 560 960 563 925 Z" fill="#27295a" opacity="0.9" filter="url(#bl4)"/>
<path d="M546 824 H600.5 L597 862 L594 878 Q590 892 577 897 Q565 892 555 878 L550 862 Z" fill="#a52a92" filter="url(#bl4)"/>
<path d="M551.5 829 H595 L591.4 860 L588.8 875 Q586 886 577 890 Q568 886 560 875 L555 860 Z" fill="url(#coneG)" filter="url(#bl2)"/>
<rect x="556" y="832" width="34" height="5" fill="#f66a55" opacity="0.8" filter="url(#bl2)"/>
</g>
<g clip-path="url(#cY0)">
<rect x="736" y="699" width="323" height="327" fill="url(#navy3)"/>
<path d="M893 714 C 870 728 845 745 821 762 C 822 770 824 776 827 781 C 832 790 836 798 840 807 L 837 904 L 846 920 L 834 938 L 834 1032 L 1064 1032 L 1064 696 L 930 696 Z" fill="#752a98" filter="url(#bl4)"/>
<path d="M860 740 C 900 715 980 712 1064 725 L 1064 810 L 870 810 Z" fill="#8d3aa6" opacity="0.55" filter="url(#bl8)"/>
<path d="M830 935 L 870 935 C 890 960 905 990 922 1032 L 826 1032 Z" fill="#141640" opacity="0.92" filter="url(#bl4)"/>
<rect x="840" y="904.5" width="111" height="12.5" fill="#231c58" opacity="0.95" filter="url(#bl2)"/>
<path d="M1052 836 L 1028 846 C 1002 874 972 908 946 936 C 916 962 886 980 846 998 L 866 1026 C 912 1008 956 992 984 962 C 1008 930 1030 900 1052 876 Z" fill="#191c4c" opacity="0.92" filter="url(#bl4)"/>
<rect x="848.4" y="814" width="97.4" height="92.6" rx="3" fill="#cf3888" filter="url(#bl2)"/>
<rect x="852.6" y="818.4" width="89" height="84.2" rx="2" fill="url(#hotY)" filter="url(#bl2)"/>
</g>
<g clip-path="url(#cY1)">
<rect x="1064" y="699" width="321" height="327" fill="url(#navy4)"/>
<rect x="1290" y="940" width="100" height="90" fill="#18224e" opacity="0.7" filter="url(#bl14)"/>
<path d="M1362 700 C 1345 710 1335 716 1331 719 C 1318 727 1308 734 1300 741 C 1290 750 1282 760 1274 769 C 1268 775 1262 779 1259 781 C 1248 792 1238 804 1230 814 C 1215 820 1196 826 1184 838 C 1177 846 1175 853 1176 860 C 1184 866 1196 870 1203 874 C 1206 882 1208 890 1214 894 C 1222 897 1232 893 1240 889 L 1246 884 L 1256 884 C 1246 896 1230 906 1224 919 C 1226 930 1236 936 1250 936 L 1322 933 C 1336 928 1346 920 1354 913 C 1364 904 1372 896 1390 886 L 1390 696 Z" fill="#752a98" filter="url(#bl4)"/>
<path d="M1300 760 C 1330 735 1365 745 1390 790 L 1390 870 L 1300 870 Z" fill="#8a38a4" opacity="0.55" filter="url(#bl8)"/>
<ellipse cx="1219" cy="855" rx="30" ry="21" fill="#8a2488" opacity="0.9" filter="url(#bl4)"/><ellipse cx="1226" cy="880" rx="17" ry="10" fill="#7a2690" opacity="0.9" filter="url(#bl4)"/>
<path d="M1259 850 C 1262 846 1270 846 1273 851 L 1276 934 L 1258 934 Z" fill="#151a44" opacity="0.95" filter="url(#bl2)"/>
<path d="M1280 867 L 1306 850" stroke="#3a1c66" stroke-width="3" opacity="0.8" filter="url(#bl2)"/>
<rect x="1190" y="848.4" width="49" height="22.4" rx="4" fill="#e4503c" filter="url(#bl2)"/>
<rect x="1192.4" y="851.2" width="44.4" height="16.8" rx="2" fill="url(#barG)" filter="url(#bl2)"/>
</g>
<rect x="405" y="699" width="8.4" height="327" fill="#000"/>
<rect x="1057.4" y="699" width="7.4" height="327" fill="#000"/>
<rect x="88.9" y="701.4" width="642.9" height="322.8" fill="none" stroke="#F8EC22" stroke-width="5.6" stroke-dasharray="10.2 3.6"/>
<rect x="739.4" y="703.9" width="640" height="318.9" fill="none" stroke="#E8412C" stroke-width="4.4" stroke-dasharray="10 4"/>
<rect x="253.4" y="715" width="295.6" height="55.6" fill="#e9cad6" opacity="0.57"/>
<rect x="405" y="715" width="8.4" height="55.6" fill="#aaa4ab"/>
<text x="261.8" y="757.5" font-size="52.3" font-weight="bold" fill="#000" text-anchor="start" textLength="277.2" lengthAdjust="spacingAndGlyphs" >X - Bending</text>
<rect x="911.3" y="715" width="300.7" height="55.6" fill="#e9cad6" opacity="0.57"/>
<rect x="1057.4" y="715" width="7.4" height="55.6" fill="#9c969e"/>
<text x="924.6" y="757.5" font-size="52.3" font-weight="bold" fill="#000" text-anchor="start" textLength="276.8" lengthAdjust="spacingAndGlyphs" >Y - Bending</text>
<rect x="179.7" y="935" width="134.0" height="71.5" fill="#deb9be" opacity="0.48"/>
<text x="203.0" y="996.6" font-size="69.5" font-weight="bold" fill="#000" text-anchor="start" textLength="91.6" lengthAdjust="spacingAndGlyphs" >0%</text>
<rect x="489.2" y="935.5" width="166.3" height="70.5" fill="#deb9be" opacity="0.48"/>
<text x="492.6" y="995.0" font-size="68" font-weight="bold" fill="#000" text-anchor="start" textLength="159.4" lengthAdjust="spacingAndGlyphs" >100%</text>
<rect x="832.1" y="936.2" width="130.1" height="69.8" fill="#deb9be" opacity="0.48"/>
<text x="853.0" y="995.8" font-size="69.5" font-weight="bold" fill="#000" text-anchor="start" textLength="91.6" lengthAdjust="spacingAndGlyphs" >0%</text>
<rect x="1138.2" y="936.2" width="167.3" height="69.8" fill="#deb9be" opacity="0.43"/>
<text x="1142.6" y="995.2" font-size="68" font-weight="bold" fill="#000" text-anchor="start" textLength="160.0" lengthAdjust="spacingAndGlyphs" >100%</text>
<rect x="500.7" y="777.6" width="141.6" height="31.8" fill="#e2c6d0" opacity="0.57"/>
<text x="506.5" y="801.4" font-size="25" font-weight="normal" fill="#000" text-anchor="start" textLength="132.4" lengthAdjust="spacingAndGlyphs" stroke="#000" stroke-width="1.0">Low Temp.</text>
<rect x="1137.2" y="781.3" width="144.7" height="32.7" fill="#e2c6d0" opacity="0.55"/>
<text x="1142.1" y="804.8" font-size="24.2" font-weight="normal" fill="#000" text-anchor="start" textLength="136.8" lengthAdjust="spacingAndGlyphs" stroke="#000" stroke-width="1.1">High Temp.</text>
<ellipse cx="572.3" cy="857" rx="45" ry="42" fill="none" stroke="#F8EC22" stroke-width="4.2" stroke-dasharray="9.5 4.6"/>
<ellipse cx="1215.3" cy="859.7" rx="41.2" ry="37" fill="none" stroke="#D8242C" stroke-width="3.8" stroke-dasharray="8.5 4.4"/>
<rect x="1408.9" y="697" width="22.8" height="331.2" fill="url(#cbar)" stroke="#000" stroke-width="4.6"/>
<rect x="1411" y="718.8" width="5.6" height="5.2" fill="#000"/>
<rect x="1411" y="752.8" width="5.6" height="5.2" fill="#000"/>
<rect x="1411" y="787.2" width="5.6" height="5.2" fill="#000"/>
<rect x="1411" y="825.2" width="5.6" height="5.2" fill="#000"/>
<rect x="1411" y="895.6" width="5.6" height="5.2" fill="#000"/>
<rect x="1411" y="932.0" width="5.6" height="5.2" fill="#000"/>
<rect x="1411" y="967.2" width="5.6" height="5.2" fill="#000"/>
<rect x="1411" y="999.3" width="5.6" height="5.2" fill="#000"/>
<rect x="1411" y="860.6" width="8.6" height="6.4" fill="#000"/>
<text x="1404.3" y="680.3" font-size="24.4" font-weight="bold" fill="#000" text-anchor="start" textLength="54.0" lengthAdjust="spacingAndGlyphs" >T(°C)</text>
<text x="1439.5" y="709.6" font-size="20.6" font-weight="bold" fill="#000" text-anchor="start" textLength="31.3" lengthAdjust="spacingAndGlyphs" >100</text>
<text x="1439.5" y="870.8" font-size="20.6" font-weight="bold" fill="#000" text-anchor="start" textLength="20.4" lengthAdjust="spacingAndGlyphs" >50</text>
<text x="1439.5" y="1029.3" font-size="20.6" font-weight="bold" fill="#000" text-anchor="start" textLength="10.0" lengthAdjust="spacingAndGlyphs" >0</text>
</g>
</svg>
</body></html>
